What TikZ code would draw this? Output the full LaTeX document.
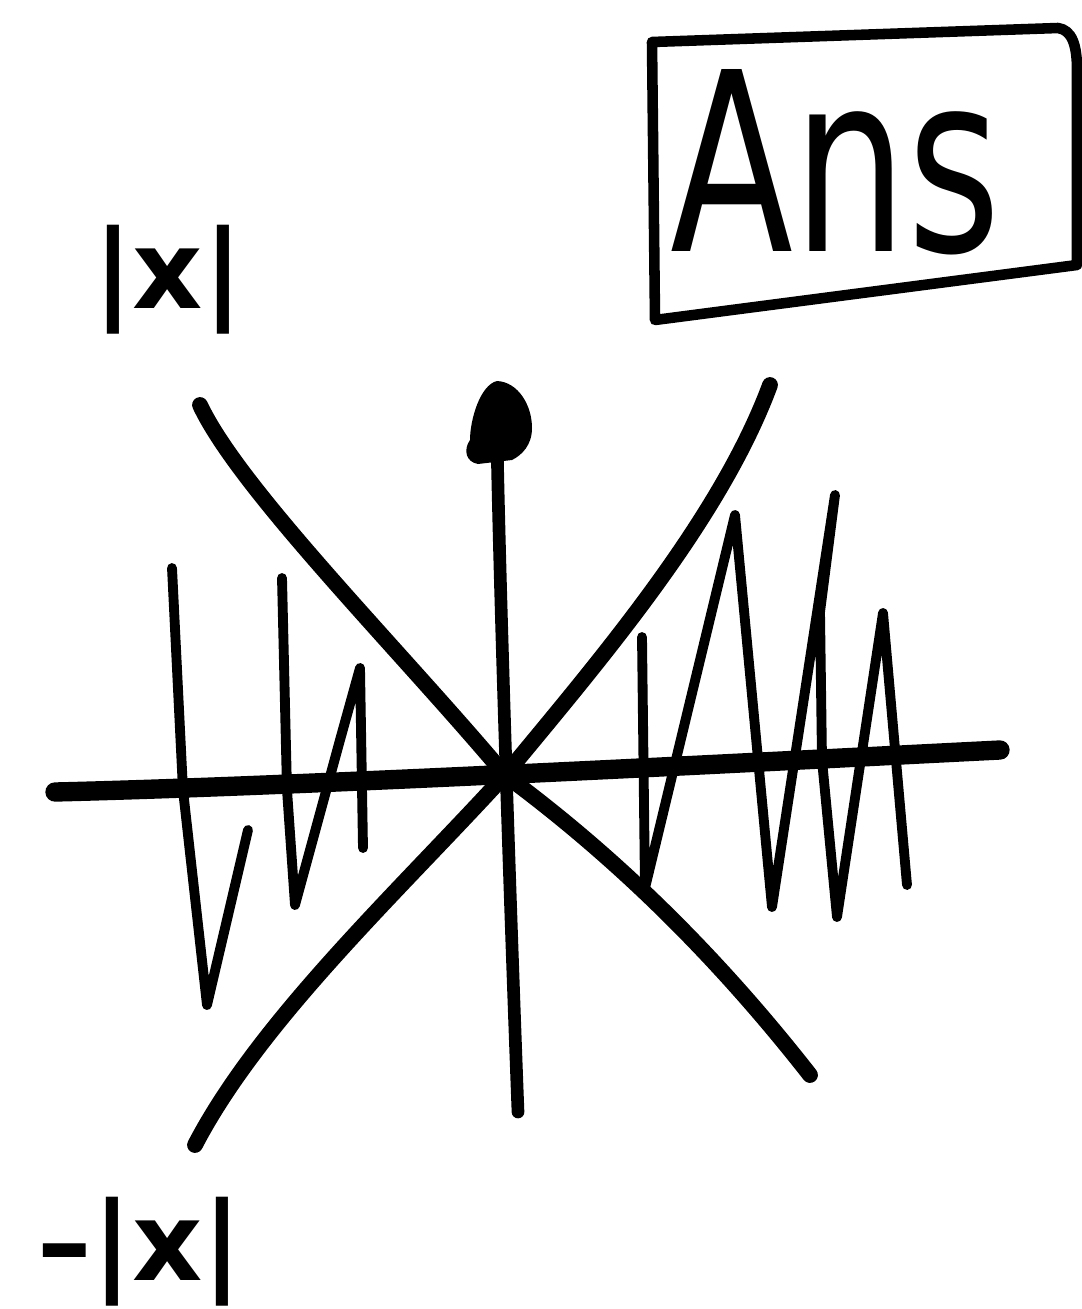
\documentclass[tikz,border=0pt]{standalone}
\usepackage{fontspec}
\newfontfamily\handfont{DejaVu Sans}
\newfontfamily\boxfont{DejaVu Sans}
\begin{document}
\begin{tikzpicture}[x=0.01cm,y=-0.01cm,
  haxis/.style={line width=5.5pt,line cap=round,line join=round},
  vaxis/.style={line width=3.6pt,line cap=round,line join=round},
  branch/.style={line width=4.5pt,line cap=round,line join=round},
  osc/.style={line width=2.8pt,line cap=round,line join=round},
  boxline/.style={line width=3pt,line cap=round,line join=round},
  lab/.style={font=\handfont\bfseries\fontsize{31}{31}\selectfont,inner sep=0pt}]
\useasboundingbox[fill=white] (0,0) rectangle (1081,1309);
\coordinate (O) at (505,775);
% horizontal axis
\draw[haxis] (55,792) .. controls (300,786) and (700,765) .. (1000,750);
% vertical axis with arrow blob
\coordinate (vtop) at (497,440);
\draw[vaxis] (518,1112) .. controls (510,900) and (500,600) .. (vtop);
\fill (497,381) .. controls (518,382) and (532,405) .. (532,428)
  .. controls (532,445) and (522,455) .. (512,460)
  -- (478,464) .. controls (466,462) and (463,450) .. (470,440)
  .. controls (470,420) and (480,385) .. (497,381) -- cycle;
% |x|
\draw[branch] (200,405) .. controls (240,490) and (400,650) .. (O);
\draw[branch] (O) .. controls (600,660) and (720,520) .. (770,385);
% -|x|
\draw[branch] (195,1145) .. controls (260,1020) and (400,890) .. (O);
\draw[branch] (O) .. controls (620,860) and (720,960) .. (810,1075);
% oscillations
\draw[osc] (172,568) -- (183,790) -- (207,1005) -- (248,830);
\draw[osc] (282,578) -- (287,790) -- (295,905) -- (340,740) -- (360,668) -- (363,848);
\draw[osc] (642,637) -- (645,888) -- (735,515) -- (772,907) -- (835,495)
  -- (820,612) -- (822,760) -- (837,917) -- (883,613) -- (907,885);
% labels
\node[lab] (absx) at (168,280) {|x|};
\node[lab] (negabsx) at (140,1252) {–|x|};
% box
\node[font=\boxfont\fontsize{71}{71}\selectfont,xscale=0.72,inner sep=0pt] (ans) at (836,162) {Ans};
\draw[boxline] (652,42) -- (1058,28) .. controls (1072,30) and (1077,45) .. (1077,70)
  -- (1077,265) -- (655,320) -- cycle;
\end{tikzpicture}
\end{document}
